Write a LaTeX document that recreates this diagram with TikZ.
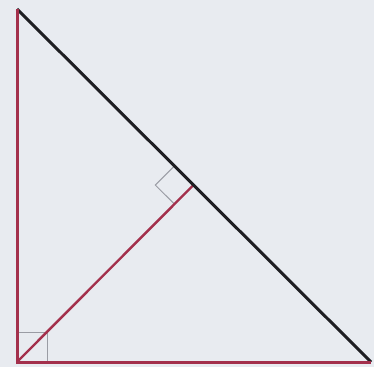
\documentclass[tikz,border=0pt]{standalone}
\usetikzlibrary{calc}
\definecolor{bg}{HTML}{E8EBF0}
\definecolor{leg}{HTML}{A3304C}
\definecolor{hyp}{HTML}{1E1E22}
\definecolor{mark}{HTML}{9A9CA4}
\tikzset{
  legline/.style={draw=leg,line width=3pt},
  hypline/.style={draw=hyp,line width=3pt},
  altline/.style={draw=leg,line width=2.4pt},
  rmark/.style={draw=mark,line width=1pt}
}
\begin{document}
\begin{tikzpicture}[x=1pt,y=-1pt]
\fill[bg] (0,0) rectangle (374,367);
\useasboundingbox (0,0) rectangle (374,367);
\coordinate (A) at (17,9);
\coordinate (B) at (17,362);
\coordinate (C) at (371,362);
\coordinate (H) at ($(A)!(B)!(C)$);
% right angle marks
\draw[rmark] ($(B)+(0,-30)$) -- ($(B)+(30,-30)$) -- ($(B)+(30,0)$);
\draw[rmark] ($(H)!27pt!(A)$) -- ($(H)!27pt!(A)+(H)!27pt!(B)-(H)$) -- ($(H)!27pt!(B)$);
% triangle
\draw[altline] (B) -- (H);
\draw[hypline] (A) -- (C);
\draw[legline] (A) -- (B) -- (C);
\end{tikzpicture}
\end{document}
